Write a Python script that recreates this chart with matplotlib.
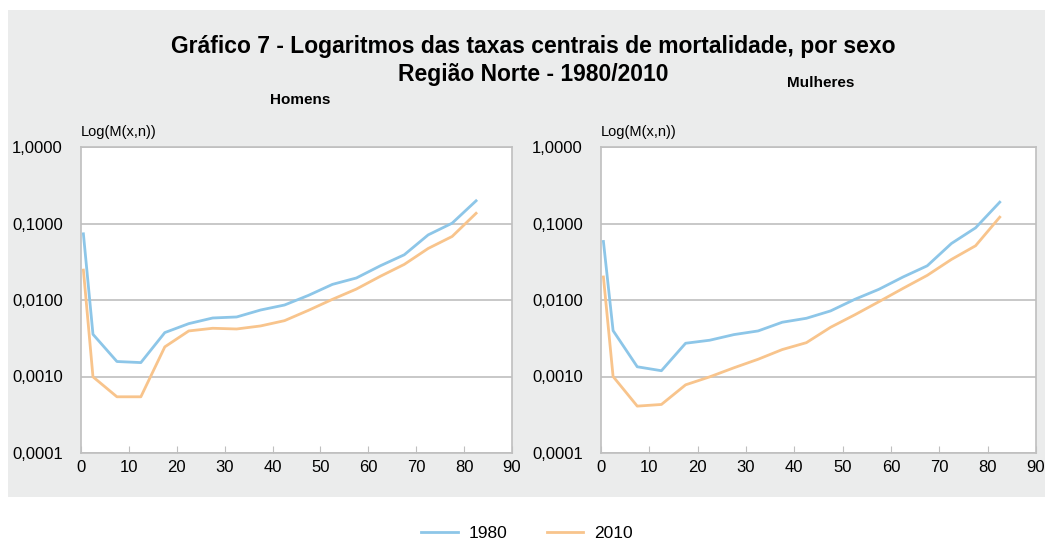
"""
Grafico 7 - log das taxas centrais de mortalidade, Regiao Norte
"""

import matplotlib.pyplot as plt
from matplotlib.patches import Rectangle
from matplotlib.ticker import FuncFormatter

# idades (ponto medio do grupo etario)
idades = [0.5, 2.5, 7.5, 12.5, 17.5, 22.5, 27.5, 32.5, 37.5, 42.5,
          47.5, 52.5, 57.5, 62.5, 67.5, 72.5, 77.5, 82.5]

# homens
homens_1980 = [0.0733, 0.00356, 0.00157, 0.00152, 0.00375, 0.00491, 0.00582, 0.0060, 0.0074,
               0.0086, 0.0115, 0.016, 0.0194, 0.028, 0.039, 0.071, 0.101, 0.198]
homens_2010 = [0.0246, 0.00099, 0.000543, 0.000543, 0.00244, 0.00394, 0.00427, 0.00418, 0.00458,
               0.00537, 0.00733, 0.0102, 0.0139, 0.0204, 0.0292, 0.0472, 0.0677, 0.136]

# mulheres
mulheres_1980 = [0.0582, 0.00398, 0.00134, 0.00119, 0.00272, 0.00298, 0.00353, 0.00394, 0.00512,
                 0.00577, 0.0072, 0.0102, 0.0138, 0.020, 0.028, 0.0548, 0.0878, 0.19]
mulheres_2010 = [0.020, 0.0010, 0.00041, 0.000431, 0.000778, 0.00099, 0.0013, 0.00168, 0.00225,
                 0.00277, 0.0044, 0.0064, 0.0095, 0.0142, 0.021, 0.0339, 0.0512, 0.121]

anos = ["1980", "2010"]
y_ticks = [0.0001, 0.001, 0.01, 0.1, 1.0]
x_ticks = list(range(0, 100, 10))

cor_1980 = "#8dc6e8"
cor_2010 = "#f8c48c"
cor_fundo = "#ebecec"
cor_eixo = "#bfbfbf"

plt.rcParams["font.family"] = ["Liberation Sans", "DejaVu Sans"]

fig = plt.figure(figsize=(10.45, 5.43), dpi=100)
W, H = 1045, 543

# painel cinza (atras dos eixos)
fig.patches.append(Rectangle((8 / W, 1 - 497 / H), 1 - 8 / W, (497 - 10) / H,
                             transform=fig.transFigure, facecolor=cor_fundo,
                             edgecolor="none", zorder=-10))

titulo_font = ["Liberation Sans Narrow", "Liberation Sans", "DejaVu Sans"]
fig.text(533 / W, 1 - 47 / H, "Gráfico 7 - Logaritmos das taxas centrais de mortalidade, por sexo",
         ha="center", va="center", fontsize=16.5, fontweight="bold", family=titulo_font)
fig.text(533 / W, 1 - 74 / H, "Região Norte - 1980/2010",
         ha="center", va="center", fontsize=16.5, fontweight="bold", family=titulo_font)


def fmt(v, pos):
    return ("%.4f" % v).replace(".", ",")


def painel(left_px, right_px, serie_1980, serie_2010, sexo, sexo_xy):
    ax = fig.add_axes([left_px / W, 1 - 453 / H, (right_px - left_px) / W, (453 - 147) / H])
    ax.set_facecolor("white")
    ax.plot(idades, serie_1980, color=cor_1980, lw=2, label=anos[0])
    ax.plot(idades, serie_2010, color=cor_2010, lw=2, label=anos[1])
    ax.set_yscale("log")
    ax.set_ylim(0.0001, 1.0)
    ax.set_xlim(0, 90)
    ax.set_yticks(y_ticks)
    ax.yaxis.set_major_formatter(FuncFormatter(fmt))
    ax.yaxis.set_minor_locator(plt.NullLocator())
    ax.set_xticks(x_ticks)
    ax.grid(axis="y", color=cor_eixo, lw=1.2)
    ax.set_axisbelow(True)
    for s in ax.spines.values():
        s.set_color(cor_eixo)
        s.set_linewidth(1.2)
    ax.tick_params(axis="x", direction="in", length=5, color=cor_eixo, labelsize=12, pad=5)
    ax.tick_params(axis="y", length=0, labelsize=12, pad=13)
    ax.text(0, 1.025, "Log(M(x,n))", transform=ax.transAxes, fontsize=10.5, ha="left", va="bottom")
    fig.text(sexo_xy[0] / W, 1 - sexo_xy[1] / H, sexo, ha="center", va="center",
             fontsize=11, fontweight="bold", family=titulo_font)
    return ax


ax1 = painel(81, 512, homens_1980, homens_2010, "Homens", (300, 100))
ax2 = painel(601, 1036, mulheres_1980, mulheres_2010, "Mulheres", (821, 83))

handles, labels = ax1.get_legend_handles_labels()
fig.legend(handles, labels, loc="center", bbox_to_anchor=(527 / W, 1 - 533 / H), ncol=2,
           frameon=False, fontsize=12.5, handlelength=2.1, handletextpad=0.6,
           columnspacing=2.3)

fig.savefig("out.png", dpi=100)
